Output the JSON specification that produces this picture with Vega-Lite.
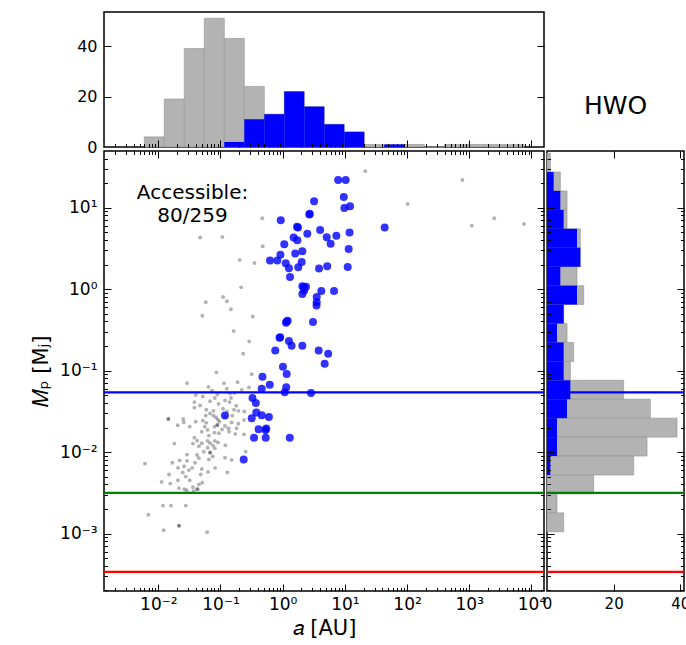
{
  "$schema": "https://vega.github.io/schema/vega-lite/v6.json",
  "background": "white",
  "padding": {"left": 29, "top": 11, "right": 0, "bottom": 0},
  "bounds": "flush",
  "columns": 2,
  "spacing": {"row": 4, "column": 3},
  "config": {
    "font": "DejaVu Sans",
    "view": {"stroke": "black", "strokeWidth": 1.5},
    "axis": {"domain": false, "grid": false, "labelColor": "black", "labelFont": "DejaVu Sans", "titleFont": "DejaVu Sans", "titleColor": "black", "titleFontWeight": "normal", "tickColor": "black", "tickWidth": 1, "labelOverlap": false, "labelFlush": false, "labelBound": false},
    "text": {"font": "DejaVu Sans", "color": "black"}
  },
  "datasets": {
    "ahist": [
      {"a_lo": 0.00596, "a_hi": 0.01249, "n_all": 4, "n_acc": 0},
      {"a_lo": 0.01249, "a_hi": 0.02618, "n_all": 19, "n_acc": 0},
      {"a_lo": 0.02618, "a_hi": 0.0549, "n_all": 39, "n_acc": 0},
      {"a_lo": 0.0549, "a_hi": 0.1151, "n_all": 51, "n_acc": 0},
      {"a_lo": 0.1151, "a_hi": 0.2413, "n_all": 43, "n_acc": 2},
      {"a_lo": 0.2413, "a_hi": 0.5058, "n_all": 24, "n_acc": 11},
      {"a_lo": 0.5058, "a_hi": 1.0605, "n_all": 13, "n_acc": 13},
      {"a_lo": 1.0605, "a_hi": 2.223, "n_all": 22, "n_acc": 22},
      {"a_lo": 2.223, "a_hi": 4.661, "n_all": 16, "n_acc": 16},
      {"a_lo": 4.661, "a_hi": 9.772, "n_all": 9, "n_acc": 9},
      {"a_lo": 9.772, "a_hi": 20.49, "n_all": 6, "n_acc": 6},
      {"a_lo": 20.49, "a_hi": 42.95, "n_all": 1, "n_acc": 0},
      {"a_lo": 42.95, "a_hi": 90.05, "n_all": 1, "n_acc": 1},
      {"a_lo": 90.05, "a_hi": 188.8, "n_all": 1, "n_acc": 0},
      {"a_lo": 188.8, "a_hi": 395.9, "n_all": 0, "n_acc": 0},
      {"a_lo": 395.9, "a_hi": 829.9, "n_all": 1, "n_acc": 0},
      {"a_lo": 829.9, "a_hi": 1740, "n_all": 1, "n_acc": 0},
      {"a_lo": 1740, "a_hi": 3648, "n_all": 1, "n_acc": 0},
      {"a_lo": 3648, "a_hi": 7647, "n_all": 1, "n_acc": 0}
    ],
    "mhist": [
      {"m_lo": 27.34, "m_hi": 46.69, "n_all": 1, "n_acc": 0},
      {"m_lo": 16.01, "m_hi": 27.34, "n_all": 4, "n_acc": 2},
      {"m_lo": 9.373, "m_hi": 16.01, "n_all": 6, "n_acc": 4},
      {"m_lo": 5.489, "m_hi": 9.373, "n_all": 6, "n_acc": 5},
      {"m_lo": 3.214, "m_hi": 5.489, "n_all": 10, "n_acc": 9},
      {"m_lo": 1.882, "m_hi": 3.214, "n_all": 10, "n_acc": 10},
      {"m_lo": 1.102, "m_hi": 1.882, "n_all": 9, "n_acc": 4},
      {"m_lo": 0.6455, "m_hi": 1.102, "n_all": 11, "n_acc": 9},
      {"m_lo": 0.378, "m_hi": 0.6455, "n_all": 5, "n_acc": 5},
      {"m_lo": 0.2213, "m_hi": 0.378, "n_all": 6, "n_acc": 3},
      {"m_lo": 0.1296, "m_hi": 0.2213, "n_all": 8, "n_acc": 5},
      {"m_lo": 0.07591, "m_hi": 0.1296, "n_all": 7, "n_acc": 5},
      {"m_lo": 0.04445, "m_hi": 0.07591, "n_all": 23, "n_acc": 7},
      {"m_lo": 0.02603, "m_hi": 0.04445, "n_all": 31, "n_acc": 6},
      {"m_lo": 0.01524, "m_hi": 0.02603, "n_all": 39, "n_acc": 3},
      {"m_lo": 0.008928, "m_hi": 0.01524, "n_all": 30, "n_acc": 3},
      {"m_lo": 0.005228, "m_hi": 0.008928, "n_all": 26, "n_acc": 1},
      {"m_lo": 0.003061, "m_hi": 0.005228, "n_all": 14, "n_acc": 0},
      {"m_lo": 0.001793, "m_hi": 0.003061, "n_all": 3, "n_acc": 0},
      {"m_lo": 0.00105, "m_hi": 0.001793, "n_all": 5, "n_acc": 0}
    ],
    "lines": [
      {"body": "Neptune", "M": 0.054},
      {"body": "Earth", "M": 0.00315},
      {"body": "Mars", "M": 0.000338}
    ],
    "label": [
      {"t": "Accessible:\n80/259", "a": 0.0355, "M": 14.9}
    ],
    "planets": [
      {"a": 7.8, "M": 21.8, "acc": true},
      {"a": 10.3, "M": 21.8, "acc": true},
      {"a": 9.6, "M": 13.5, "acc": true},
      {"a": 3.2, "M": 12.0, "acc": true},
      {"a": 9.8, "M": 9.86, "acc": true},
      {"a": 12.1, "M": 10.4, "acc": true},
      {"a": 2.72, "M": 8.4, "acc": true},
      {"a": 2.69, "M": 8.2, "acc": true},
      {"a": 0.93, "M": 7.0, "acc": true},
      {"a": 1.70, "M": 5.8, "acc": true},
      {"a": 1.76, "M": 5.7, "acc": true},
      {"a": 4.0, "M": 5.3, "acc": true},
      {"a": 11.9, "M": 4.95, "acc": true},
      {"a": 2.49, "M": 4.76, "acc": true},
      {"a": 5.1, "M": 4.34, "acc": true},
      {"a": 7.3, "M": 4.5, "acc": true},
      {"a": 1.50, "M": 4.3, "acc": true},
      {"a": 1.72, "M": 3.98, "acc": true},
      {"a": 43.6, "M": 5.7, "acc": true},
      {"a": 1.06, "M": 3.56, "acc": true},
      {"a": 5.9, "M": 3.6, "acc": true},
      {"a": 11.5, "M": 3.1, "acc": true},
      {"a": 2.07, "M": 2.92, "acc": true},
      {"a": 1.59, "M": 2.73, "acc": true},
      {"a": 0.92, "M": 2.63, "acc": true},
      {"a": 0.625, "M": 2.24, "acc": true},
      {"a": 0.82, "M": 2.24, "acc": true},
      {"a": 2.02, "M": 2.15, "acc": true},
      {"a": 1.12, "M": 2.08, "acc": true},
      {"a": 1.78, "M": 1.85, "acc": true},
      {"a": 1.26, "M": 1.80, "acc": true},
      {"a": 3.84, "M": 1.79, "acc": true},
      {"a": 5.2, "M": 1.91, "acc": true},
      {"a": 11.1, "M": 1.87, "acc": true},
      {"a": 1.31, "M": 1.41, "acc": true},
      {"a": 2.07, "M": 1.08, "acc": true},
      {"a": 2.37, "M": 1.07, "acc": true},
      {"a": 2.20, "M": 1.06, "acc": true},
      {"a": 2.22, "M": 0.96, "acc": true},
      {"a": 4.18, "M": 0.95, "acc": true},
      {"a": 6.7, "M": 0.95, "acc": true},
      {"a": 2.07, "M": 0.87, "acc": true},
      {"a": 3.52, "M": 0.80, "acc": true},
      {"a": 3.52, "M": 0.69, "acc": true},
      {"a": 3.50, "M": 0.63, "acc": true},
      {"a": 1.20, "M": 0.41, "acc": true},
      {"a": 1.13, "M": 0.385, "acc": true},
      {"a": 1.16, "M": 0.40, "acc": true},
      {"a": 3.07, "M": 0.394, "acc": true},
      {"a": 0.89, "M": 0.253, "acc": true},
      {"a": 0.91, "M": 0.257, "acc": true},
      {"a": 1.26, "M": 0.231, "acc": true},
      {"a": 1.39, "M": 0.202, "acc": true},
      {"a": 2.07, "M": 0.201, "acc": true},
      {"a": 0.76, "M": 0.176, "acc": true},
      {"a": 3.79, "M": 0.176, "acc": true},
      {"a": 5.39, "M": 0.161, "acc": true},
      {"a": 4.73, "M": 0.121, "acc": true},
      {"a": 1.01, "M": 0.111, "acc": true},
      {"a": 1.16, "M": 0.091, "acc": true},
      {"a": 0.473, "M": 0.084, "acc": true},
      {"a": 0.62, "M": 0.067, "acc": true},
      {"a": 0.46, "M": 0.060, "acc": true},
      {"a": 1.14, "M": 0.0625, "acc": true},
      {"a": 1.08, "M": 0.054, "acc": true},
      {"a": 2.85, "M": 0.053, "acc": true},
      {"a": 0.327, "M": 0.046, "acc": true},
      {"a": 0.37, "M": 0.040, "acc": true},
      {"a": 0.377, "M": 0.0305, "acc": true},
      {"a": 0.118, "M": 0.028, "acc": true},
      {"a": 0.318, "M": 0.026, "acc": true},
      {"a": 0.46, "M": 0.0283, "acc": true},
      {"a": 0.60, "M": 0.027, "acc": true},
      {"a": 0.41, "M": 0.0191, "acc": true},
      {"a": 0.53, "M": 0.0186, "acc": true},
      {"a": 0.545, "M": 0.0194, "acc": true},
      {"a": 0.346, "M": 0.0150, "acc": true},
      {"a": 0.533, "M": 0.0150, "acc": true},
      {"a": 1.30, "M": 0.0150, "acc": true},
      {"a": 0.236, "M": 0.0081, "acc": true},
      {"a": 21.3, "M": 28, "acc": false},
      {"a": 773, "M": 21.8, "acc": false},
      {"a": 102, "M": 11.1, "acc": false},
      {"a": 1100, "M": 6.0, "acc": false},
      {"a": 2520, "M": 7.4, "acc": false},
      {"a": 7590, "M": 6.3, "acc": false},
      {"a": 0.47, "M": 7.4, "acc": false},
      {"a": 0.047, "M": 4.3, "acc": false},
      {"a": 0.107, "M": 4.37, "acc": false},
      {"a": 0.477, "M": 3.36, "acc": false},
      {"a": 0.204, "M": 2.28, "acc": false},
      {"a": 0.352, "M": 2.09, "acc": false},
      {"a": 0.215, "M": 1.05, "acc": false},
      {"a": 0.058, "M": 0.69, "acc": false},
      {"a": 0.110, "M": 0.80, "acc": false},
      {"a": 0.127, "M": 0.71, "acc": false},
      {"a": 0.051, "M": 0.47, "acc": false},
      {"a": 0.147, "M": 0.565, "acc": false},
      {"a": 0.33, "M": 0.46, "acc": false},
      {"a": 0.163, "M": 0.305, "acc": false},
      {"a": 0.289, "M": 0.228, "acc": false},
      {"a": 0.232, "M": 0.161, "acc": false},
      {"a": 0.086, "M": 0.095, "acc": false},
      {"a": 0.318, "M": 0.090, "acc": false},
      {"a": 0.029, "M": 0.070, "acc": false},
      {"a": 0.064, "M": 0.063, "acc": false},
      {"a": 0.114, "M": 0.070, "acc": false},
      {"a": 0.126, "M": 0.060, "acc": false},
      {"a": 0.188, "M": 0.072, "acc": false},
      {"a": 0.220, "M": 0.058, "acc": false},
      {"a": 0.287, "M": 0.062, "acc": false},
      {"a": 0.040, "M": 0.050, "acc": false},
      {"a": 0.089, "M": 0.051, "acc": false},
      {"a": 0.167, "M": 0.053, "acc": false},
      {"a": 0.081, "M": 0.046, "acc": false},
      {"a": 0.118, "M": 0.043, "acc": false},
      {"a": 0.148, "M": 0.046, "acc": false},
      {"a": 0.068, "M": 0.042, "acc": false},
      {"a": 0.038, "M": 0.041, "acc": false},
      {"a": 0.093, "M": 0.039, "acc": false},
      {"a": 0.140, "M": 0.041, "acc": false},
      {"a": 0.179, "M": 0.037, "acc": false},
      {"a": 0.038, "M": 0.035, "acc": false},
      {"a": 0.059, "M": 0.033, "acc": false},
      {"a": 0.077, "M": 0.032, "acc": false},
      {"a": 0.110, "M": 0.034, "acc": false},
      {"a": 0.165, "M": 0.033, "acc": false},
      {"a": 0.241, "M": 0.0314, "acc": false},
      {"a": 0.194, "M": 0.032, "acc": false},
      {"a": 0.077, "M": 0.028, "acc": false},
      {"a": 0.118, "M": 0.027, "acc": false},
      {"a": 0.155, "M": 0.028, "acc": false},
      {"a": 0.0145, "M": 0.0255, "acc": false},
      {"a": 0.0145, "M": 0.0254, "acc": false},
      {"a": 0.0252, "M": 0.0255, "acc": false},
      {"a": 0.0256, "M": 0.0232, "acc": false},
      {"a": 0.0205, "M": 0.0213, "acc": false},
      {"a": 0.058, "M": 0.028, "acc": false},
      {"a": 0.059, "M": 0.0228, "acc": false},
      {"a": 0.096, "M": 0.0236, "acc": false},
      {"a": 0.080, "M": 0.0205, "acc": false},
      {"a": 0.089, "M": 0.0215, "acc": false},
      {"a": 0.0892, "M": 0.0214, "acc": false},
      {"a": 0.118, "M": 0.0209, "acc": false},
      {"a": 0.151, "M": 0.0230, "acc": false},
      {"a": 0.194, "M": 0.0223, "acc": false},
      {"a": 0.239, "M": 0.0248, "acc": false},
      {"a": 0.134, "M": 0.0196, "acc": false},
      {"a": 0.182, "M": 0.0196, "acc": false},
      {"a": 0.050, "M": 0.0178, "acc": false},
      {"a": 0.062, "M": 0.0187, "acc": false},
      {"a": 0.080, "M": 0.0173, "acc": false},
      {"a": 0.094, "M": 0.0170, "acc": false},
      {"a": 0.038, "M": 0.0150, "acc": false},
      {"a": 0.050, "M": 0.0128, "acc": false},
      {"a": 0.062, "M": 0.0137, "acc": false},
      {"a": 0.081, "M": 0.0137, "acc": false},
      {"a": 0.068, "M": 0.0128, "acc": false},
      {"a": 0.120, "M": 0.0121, "acc": false},
      {"a": 0.173, "M": 0.0167, "acc": false},
      {"a": 0.239, "M": 0.0165, "acc": false},
      {"a": 0.0181, "M": 0.0127, "acc": false},
      {"a": 0.045, "M": 0.0118, "acc": false},
      {"a": 0.062, "M": 0.0113, "acc": false},
      {"a": 0.081, "M": 0.0111, "acc": false},
      {"a": 0.068, "M": 0.0099, "acc": false},
      {"a": 0.0682, "M": 0.0098, "acc": false},
      {"a": 0.254, "M": 0.0101, "acc": false},
      {"a": 0.029, "M": 0.0093, "acc": false},
      {"a": 0.042, "M": 0.0092, "acc": false},
      {"a": 0.045, "M": 0.0084, "acc": false},
      {"a": 0.075, "M": 0.0088, "acc": false},
      {"a": 0.118, "M": 0.0085, "acc": false},
      {"a": 0.151, "M": 0.0080, "acc": false},
      {"a": 0.022, "M": 0.0079, "acc": false},
      {"a": 0.0168, "M": 0.0074, "acc": false},
      {"a": 0.0061, "M": 0.0072, "acc": false},
      {"a": 0.029, "M": 0.0078, "acc": false},
      {"a": 0.026, "M": 0.0067, "acc": false},
      {"a": 0.035, "M": 0.0064, "acc": false},
      {"a": 0.050, "M": 0.0062, "acc": false},
      {"a": 0.031, "M": 0.0060, "acc": false},
      {"a": 0.0247, "M": 0.0056, "acc": false},
      {"a": 0.129, "M": 0.0056, "acc": false},
      {"a": 0.0149, "M": 0.0053, "acc": false},
      {"a": 0.0276, "M": 0.0050, "acc": false},
      {"a": 0.048, "M": 0.0053, "acc": false},
      {"a": 0.0207, "M": 0.0045, "acc": false},
      {"a": 0.032, "M": 0.0045, "acc": false},
      {"a": 0.051, "M": 0.0042, "acc": false},
      {"a": 0.0113, "M": 0.0043, "acc": false},
      {"a": 0.0156, "M": 0.0041, "acc": false},
      {"a": 0.045, "M": 0.0040, "acc": false},
      {"a": 0.036, "M": 0.0037, "acc": false},
      {"a": 0.0215, "M": 0.0036, "acc": false},
      {"a": 0.0262, "M": 0.0035, "acc": false},
      {"a": 0.0287, "M": 0.0034, "acc": false},
      {"a": 0.042, "M": 0.0035, "acc": false},
      {"a": 0.043, "M": 0.0035, "acc": false},
      {"a": 0.037, "M": 0.0033, "acc": false},
      {"a": 0.0119, "M": 0.0022, "acc": false},
      {"a": 0.0160, "M": 0.0022, "acc": false},
      {"a": 0.0277, "M": 0.0022, "acc": false},
      {"a": 0.0069, "M": 0.0017, "acc": false},
      {"a": 0.0215, "M": 0.00125, "acc": false},
      {"a": 0.0216, "M": 0.00124, "acc": false},
      {"a": 0.0122, "M": 0.0011, "acc": false},
      {"a": 0.061, "M": 0.00104, "acc": false},
      {"a": 0.073, "M": 0.057, "acc": false},
      {"a": 0.052, "M": 0.048, "acc": false},
      {"a": 0.142, "M": 0.0523, "acc": false},
      {"a": 0.047, "M": 0.0372, "acc": false},
      {"a": 0.068, "M": 0.0297, "acc": false},
      {"a": 0.127, "M": 0.0314, "acc": false},
      {"a": 0.085, "M": 0.0265, "acc": false},
      {"a": 0.032, "M": 0.0205, "acc": false},
      {"a": 0.052, "M": 0.0243, "acc": false},
      {"a": 0.065, "M": 0.0159, "acc": false},
      {"a": 0.106, "M": 0.0189, "acc": false},
      {"a": 0.040, "M": 0.0236, "acc": false},
      {"a": 0.056, "M": 0.0205, "acc": false},
      {"a": 0.137, "M": 0.0178, "acc": false},
      {"a": 0.091, "M": 0.0250, "acc": false},
      {"a": 0.036, "M": 0.0127, "acc": false},
      {"a": 0.054, "M": 0.0101, "acc": false},
      {"a": 0.091, "M": 0.0131, "acc": false},
      {"a": 0.042, "M": 0.0138, "acc": false},
      {"a": 0.076, "M": 0.0120, "acc": false},
      {"a": 0.039, "M": 0.0074, "acc": false},
      {"a": 0.065, "M": 0.0081, "acc": false},
      {"a": 0.082, "M": 0.0064, "acc": false},
      {"a": 0.0207, "M": 0.0064, "acc": false},
      {"a": 0.063, "M": 0.0057, "acc": false}
    ]
  },
  "concat": [
    {
      "width": 440,
      "height": 135,
      "data": {"name": "ahist"},
      "layer": [
        {
          "mark": {"type": "rect", "color": "#b3b3b3", "stroke": "#9a9a9a", "strokeWidth": 0.7},
          "encoding": {
            "x": {"field": "a_lo", "type": "quantitative", "scale": {"type": "log", "domain": [0.00134, 15900], "nice": false},
              "axis": {"orient": "bottom", "values": [0.002,0.003,0.004,0.005,0.006,0.007,0.008,0.009,0.01,0.02,0.03,0.04,0.05,0.06,0.07,0.08,0.09,0.1,0.2,0.3,0.4,0.5,0.6,0.7,0.8,0.9,1,2,3,4,5,6,7,8,9,10,20,30,40,50,60,70,80,90,100,200,300,400,500,600,700,800,900,1000,2000,3000,4000,5000,6000,7000,8000,9000,10000], "labels": false, "title": null, "zindex": 1,
                "tickSize": {"condition": {"test": "indexof([0.001,0.01,0.1,1,10,100,1000,10000], datum.value) >= 0", "value": -7}, "value": -3.5}}},
            "x2": {"field": "a_hi"},
            "y": {"field": "n_all", "type": "quantitative", "scale": {"domain": [0, 53.5], "nice": false},
              "axis": {"orient": "left", "values": [0, 20, 40], "ticks": false, "labelFontSize": 16, "labelPadding": 7, "title": null}},
            "y2": {"datum": 0}
          }
        },
        {
          "mark": {"type": "rect", "color": "#0000ff"},
          "encoding": {
            "x": {"field": "a_lo", "type": "quantitative", "axis": null},
            "x2": {"field": "a_hi"},
            "y": {"field": "n_acc", "type": "quantitative", "axis": {"orient": "left", "values": [20, 40], "labels": false, "title": null, "tickSize": -7, "zindex": 1}},
            "y2": {"datum": 0}
          }
        },
        {
          "mark": {"type": "rect", "opacity": 0},
          "encoding": {
            "x": {"field": "a_lo", "type": "quantitative", "axis": null},
            "x2": {"field": "a_hi"},
            "y": {"field": "n_acc", "type": "quantitative", "axis": {"orient": "right", "values": [20, 40], "labels": false, "title": null, "tickSize": -7, "zindex": 1}},
            "y2": {"datum": 0}
          }
        }
      ],
      "resolve": {"axis": {"x": "independent", "y": "independent"}}
    },
    {
      "width": 137,
      "height": 135,
      "view": {"stroke": null},
      "data": {"values": [{"t": "HWO"}]},
      "mark": {"type": "text", "fontSize": 25, "align": "center", "baseline": "middle", "dy": 26},
      "encoding": {"text": {"field": "t"}}
    },
    {
      "width": 440,
      "height": 440,
      "layer": [
        {
          "data": {"name": "planets"},
          "transform": [{"filter": "!datum.acc"}],
          "mark": {"type": "circle", "size": 15, "color": "black", "opacity": 0.3},
          "encoding": {
            "x": {"field": "a", "type": "quantitative", "scale": {"type": "log", "domain": [0.00134, 15900], "nice": false},
              "axis": {"orient": "bottom", "values": [0.01,0.1,1,10,100,1000,10000], "ticks": false, "labelFontSize": 17, "labelPadding": 5,
                "labelExpr": "datum.value == 0.01 ? '10⁻²' : datum.value == 0.1 ? '10⁻¹' : datum.value == 1 ? '10⁰' : datum.value == 10 ? '10¹' : datum.value == 100 ? '10²' : datum.value == 1000 ? '10³' : datum.value == 10000 ? '10⁴' : ''",
                "title": "𝑎 [AU]", "titleFontSize": 21, "titlePadding": 5}},
            "y": {"field": "M", "type": "quantitative", "scale": {"type": "log", "domain": [0.000197, 49.5], "nice": false},
              "axis": {"orient": "left", "values": [0.001,0.01,0.1,1,10], "ticks": false, "labelFontSize": 17, "labelPadding": 7,
                "labelExpr": "datum.value == 0.001 ? '10⁻³' : datum.value == 0.01 ? '10⁻²' : datum.value == 0.1 ? '10⁻¹' : datum.value == 1 ? '10⁰' : datum.value == 10 ? '10¹' : ''",
                "title": "𝑀ₚ [Mⱼ]", "titleFontSize": 21, "titlePadding": 8}}
          }
        },
        {
          "data": {"name": "planets"},
          "transform": [{"filter": "datum.acc"}],
          "mark": {"type": "circle", "size": 64, "color": "#0000ff", "opacity": 0.8},
          "encoding": {
            "x": {"field": "a", "type": "quantitative",
              "axis": {"orient": "bottom", "values": [0.002,0.003,0.004,0.005,0.006,0.007,0.008,0.009,0.01,0.02,0.03,0.04,0.05,0.06,0.07,0.08,0.09,0.1,0.2,0.3,0.4,0.5,0.6,0.7,0.8,0.9,1,2,3,4,5,6,7,8,9,10,20,30,40,50,60,70,80,90,100,200,300,400,500,600,700,800,900,1000,2000,3000,4000,5000,6000,7000,8000,9000,10000], "labels": false, "title": null, "zindex": 1,
                "tickSize": {"condition": {"test": "indexof([0.001,0.01,0.1,1,10,100,1000,10000], datum.value) >= 0", "value": -7}, "value": -3.5}}},
            "y": {"field": "M", "type": "quantitative",
              "axis": {"orient": "left", "values": [0.0002,0.0003,0.0004,0.0005,0.0006,0.0007,0.0008,0.0009,0.001,0.002,0.003,0.004,0.005,0.006,0.007,0.008,0.009,0.01,0.02,0.03,0.04,0.05,0.06,0.07,0.08,0.09,0.1,0.2,0.3,0.4,0.5,0.6,0.7,0.8,0.9,1,2,3,4,5,6,7,8,9,10,20,30,40], "labels": false, "title": null, "zindex": 1,
                "tickSize": {"condition": {"test": "indexof([0.001,0.01,0.1,1,10,100,1000,10000], datum.value) >= 0", "value": -7}, "value": -3.5}}}
          }
        },
        {
          "data": {"name": "lines"},
          "mark": {"type": "rule", "strokeWidth": 2.2},
          "encoding": {
            "y": {"field": "M", "type": "quantitative",
              "axis": {"orient": "right", "values": [0.0002,0.0003,0.0004,0.0005,0.0006,0.0007,0.0008,0.0009,0.001,0.002,0.003,0.004,0.005,0.006,0.007,0.008,0.009,0.01,0.02,0.03,0.04,0.05,0.06,0.07,0.08,0.09,0.1,0.2,0.3,0.4,0.5,0.6,0.7,0.8,0.9,1,2,3,4,5,6,7,8,9,10,20,30,40], "labels": false, "title": null, "zindex": 1,
                "tickSize": {"condition": {"test": "indexof([0.001,0.01,0.1,1,10,100,1000,10000], datum.value) >= 0", "value": -7}, "value": -3.5}}},
            "color": {"field": "body", "type": "nominal", "scale": {"domain": ["Neptune", "Earth", "Mars"], "range": ["#0000ff", "#008000", "#ff0000"]}, "legend": null}
          }
        },
        {
          "data": {"name": "label"},
          "mark": {"type": "text", "fontSize": 20, "lineBreak": "\n", "lineHeight": 23, "align": "center", "baseline": "middle"},
          "encoding": {
            "x": {"field": "a", "type": "quantitative",
              "axis": {"orient": "top", "values": [0.002,0.003,0.004,0.005,0.006,0.007,0.008,0.009,0.01,0.02,0.03,0.04,0.05,0.06,0.07,0.08,0.09,0.1,0.2,0.3,0.4,0.5,0.6,0.7,0.8,0.9,1,2,3,4,5,6,7,8,9,10,20,30,40,50,60,70,80,90,100,200,300,400,500,600,700,800,900,1000,2000,3000,4000,5000,6000,7000,8000,9000,10000], "labels": false, "title": null, "zindex": 1,
                "tickSize": {"condition": {"test": "indexof([0.001,0.01,0.1,1,10,100,1000,10000], datum.value) >= 0", "value": -7}, "value": -3.5}}},
            "y": {"field": "M", "type": "quantitative", "axis": null},
            "text": {"field": "t"}
          }
        }
      ],
      "resolve": {"axis": {"x": "independent", "y": "independent"}}
    },
    {
      "width": 137,
      "height": 440,
      "layer": [
        {
          "data": {"name": "mhist"},
          "mark": {"type": "rect", "color": "#b3b3b3", "stroke": "#9a9a9a", "strokeWidth": 0.7},
          "encoding": {
            "y": {"field": "m_lo", "type": "quantitative", "scale": {"type": "log", "domain": [0.000197, 49.5], "nice": false},
              "axis": {"orient": "left", "values": [0.0002,0.0003,0.0004,0.0005,0.0006,0.0007,0.0008,0.0009,0.001,0.002,0.003,0.004,0.005,0.006,0.007,0.008,0.009,0.01,0.02,0.03,0.04,0.05,0.06,0.07,0.08,0.09,0.1,0.2,0.3,0.4,0.5,0.6,0.7,0.8,0.9,1,2,3,4,5,6,7,8,9,10,20,30,40], "labels": false, "title": null, "zindex": 1,
                "tickSize": {"condition": {"test": "indexof([0.001,0.01,0.1,1,10,100,1000,10000], datum.value) >= 0", "value": -7}, "value": -3.5}}},
            "y2": {"field": "m_hi"},
            "x": {"field": "n_all", "type": "quantitative", "scale": {"domain": [0, 41.1], "nice": false},
              "axis": {"orient": "bottom", "values": [0, 20, 40], "ticks": false, "labelFontSize": 15, "labelPadding": 5, "title": null}},
            "x2": {"datum": 0}
          }
        },
        {
          "data": {"name": "mhist"},
          "mark": {"type": "rect", "color": "#0000ff"},
          "encoding": {
            "y": {"field": "m_lo", "type": "quantitative",
              "axis": {"orient": "right", "values": [0.0002,0.0003,0.0004,0.0005,0.0006,0.0007,0.0008,0.0009,0.001,0.002,0.003,0.004,0.005,0.006,0.007,0.008,0.009,0.01,0.02,0.03,0.04,0.05,0.06,0.07,0.08,0.09,0.1,0.2,0.3,0.4,0.5,0.6,0.7,0.8,0.9,1,2,3,4,5,6,7,8,9,10,20,30,40], "labels": false, "title": null, "zindex": 1,
                "tickSize": {"condition": {"test": "indexof([0.001,0.01,0.1,1,10,100,1000,10000], datum.value) >= 0", "value": -7}, "value": -3.5}}},
            "y2": {"field": "m_hi"},
            "x": {"field": "n_acc", "type": "quantitative", "axis": {"orient": "bottom", "values": [20, 40], "labels": false, "title": null, "tickSize": -7, "zindex": 1}},
            "x2": {"datum": 0}
          }
        },
        {
          "data": {"name": "lines"},
          "mark": {"type": "rule", "strokeWidth": 2.2},
          "encoding": {
            "y": {"field": "M", "type": "quantitative", "axis": null},
            "color": {"field": "body", "type": "nominal", "scale": {"domain": ["Neptune", "Earth", "Mars"], "range": ["#0000ff", "#008000", "#ff0000"]}, "legend": null}
          }
        },
        {
          "data": {"name": "mhist"},
          "mark": {"type": "rect", "opacity": 0},
          "encoding": {
            "y": {"field": "m_lo", "type": "quantitative", "axis": null},
            "y2": {"field": "m_hi"},
            "x": {"field": "n_acc", "type": "quantitative", "axis": {"orient": "top", "values": [20, 40], "labels": false, "title": null, "tickSize": -7, "zindex": 1}},
            "x2": {"datum": 0}
          }
        }
      ],
      "resolve": {"axis": {"x": "independent", "y": "independent"}}
    }
  ]
}
